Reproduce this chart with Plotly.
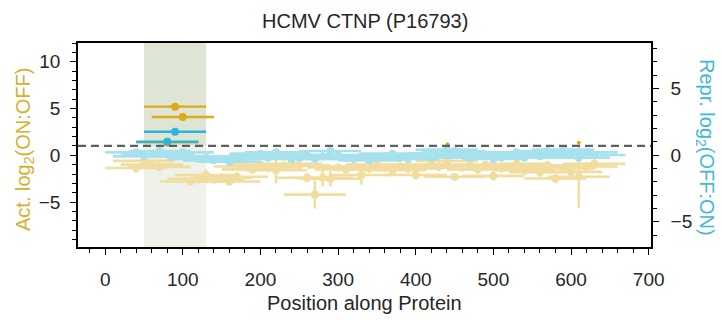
import plotly.graph_objects as go

# ---- data ----
tile_center = [40, 50, 60, 70, 80, 90, 100, 110, 120, 130, 140, 150, 160, 170, 180, 190, 200,
               210, 220, 230, 240, 250, 260, 270, 280, 290, 300, 310, 320, 330, 340, 350, 360,
               370, 380, 390, 400, 410, 420, 430, 440, 450, 460, 470, 480, 490, 500, 510, 520,
               530, 540, 550, 560, 570, 580, 590, 600, 610, 620, 630]
tile_halfwidth = [40] * len(tile_center)

act_value = [-1.35, -0.6, -1.0, -1.24, 1.4, 5.2, 4.1, -2.8, -2.5, -2.1, -2.6, -2.4, -2.8, -2.3, -1.2,
             -1.5, -1.0, -1.3, -1.6, -1.1, -0.9, -1.06, -2.4, -4.2, -2.4, -2.5, -1.3, -1.5, -1.2,
             -2.1, -1.4, -1.0, -1.3, -1.6, -1.2, -1.4, -2.1, -1.3, -1.0, -1.2, -0.6, -2.3, -1.3,
             -1.1, -1.5, -1.0, -2.2, -1.4, -1.2, -0.9, -1.6, -1.3, -1.8, -1.06, -2.48, -1.4, -1.77,
             -2.3, -1.2, -0.9]
act_err = [0.5, 0.4, 0.4, 0.5, 0.45, 0.2, 0.2, 0.4, 0.5, 0.6, 0.4, 0.5, 0.4, 0.5, 0.4,
           0.5, 0.4, 0.5, 1.4, 0.4, 0.5, 0.5, 0.5, 1.5, 0.9, 0.8, 0.4, 0.5, 0.4,
           1.05, 0.5, 0.4, 0.5, 0.4, 0.4, 0.5, 0.5, 0.4, 0.4, 0.5, 0.5, 0.4, 0.4,
           0.4, 0.5, 0.4, 0.5, 0.4, 0.4, 0.4, 0.5, 0.4, 0.5, 0.4, 0.5, 0.4, 0.5,
           3.3, 0.5, 0.6]

rep_value = [0.2, -0.1, 0.1, 0.3, 0.99, 1.74, 0.2, -0.1, -0.3, -0.2, -0.4, -0.3, -0.5, -0.2, -0.3,
             -0.1, 0.1, -0.2, 0.2, -0.1, -0.3, -0.2, 0.0, -0.3, -0.1, 0.3, 0.0, -0.2, -0.3,
             -0.1, -0.4, -0.2, -0.1, 0.1, -0.2, -0.3, -0.1, 0.0, -0.2, 0.1, 0.4, 0.3, 0.1,
             -0.2, 0.0, -0.1, -0.3, -0.2, 0.0, 0.2, -0.2, 0.1, -0.1, 0.3, 0.0, 0.4, 0.1,
             -0.2, 0.2, 0.0]
rep_err = [0.2] * len(tile_center)

# small strong activation tips visible near the threshold
tip_x = [441, 610]
tip_y = [1.17, 1.35]

act_threshold = 1.0
hit_region = [50, 130]

# ---- styling ----
GOLD = "#dcab16"
GOLD_F = "#f0dd9f"
BLUE = "#2bb6d9"
BLUE_F = "#a8e1ee"
FONT = "Liberation Sans, Arial, sans-serif"
TXT = "#262626"
FS_TICK = 19
FS_LAB = 20

act_hit = [v > act_threshold for v in act_value]
rep_hit = [v > act_threshold * 0.7 for v in rep_value]


def pick(lst, mask, keep):
    return [a for a, m in zip(lst, mask) if m == keep]


fig = go.Figure()

# faded activation
fig.add_trace(go.Scatter(
    x=pick(tile_center, act_hit, False), y=pick(act_value, act_hit, False), mode="markers",
    marker=dict(color=GOLD_F, size=8),
    error_x=dict(type="data", array=pick(tile_halfwidth, act_hit, False), color=GOLD_F, thickness=2.6, width=0),
    error_y=dict(type="data", array=pick(act_err, act_hit, False), color=GOLD_F, thickness=2.6, width=0),
    yaxis="y", showlegend=False))

# faded repression
fig.add_trace(go.Scatter(
    x=pick(tile_center, rep_hit, False), y=pick(rep_value, rep_hit, False), mode="markers",
    marker=dict(color=BLUE_F, size=8),
    error_x=dict(type="data", array=pick(tile_halfwidth, rep_hit, False), color=BLUE_F, thickness=2.6, width=0),
    error_y=dict(type="data", array=pick(rep_err, rep_hit, False), color=BLUE_F, thickness=2.6, width=0),
    yaxis="y2", showlegend=False))

# strong activation
fig.add_trace(go.Scatter(
    x=pick(tile_center, act_hit, True), y=pick(act_value, act_hit, True), mode="markers",
    marker=dict(color=GOLD, size=8),
    error_x=dict(type="data", array=pick(tile_halfwidth, act_hit, True), color=GOLD, thickness=2.4, width=0),
    error_y=dict(type="data", array=pick(act_err, act_hit, True), color=GOLD, thickness=2.4, width=0),
    yaxis="y", showlegend=False))
fig.add_trace(go.Scatter(
    x=tip_x, y=tip_y, mode="markers", marker=dict(color=GOLD, size=4),
    yaxis="y", showlegend=False))

# strong repression
fig.add_trace(go.Scatter(
    x=pick(tile_center, rep_hit, True), y=pick(rep_value, rep_hit, True), mode="markers",
    marker=dict(color=BLUE, size=8),
    error_x=dict(type="data", array=pick(tile_halfwidth, rep_hit, True), color=BLUE, thickness=2.4, width=0),
    error_y=dict(type="data", array=[0.05] * sum(rep_hit), color=BLUE, thickness=2.4, width=0),
    yaxis="y2", showlegend=False))

# shaded hit region + threshold
fig.add_shape(type="rect", xref="x", yref="y", x0=hit_region[0], x1=hit_region[1],
              y0=act_threshold, y1=12, fillcolor="#dfe5d5", line_width=0, layer="below")
fig.add_shape(type="rect", xref="x", yref="y", x0=hit_region[0], x1=hit_region[1],
              y0=-9.8, y1=act_threshold, fillcolor="#eef2ea", line_width=0, layer="below")
fig.add_shape(type="line", xref="paper", yref="y", x0=0, x1=1, y0=act_threshold, y1=act_threshold,
              line=dict(color="#5f5f5f", width=2.2, dash="8px,5px"))

axis_common = dict(showgrid=False, zeroline=False, showline=True, linecolor="black", linewidth=1.6,
                   ticks="outside", tickcolor="black", ticklen=6, tickwidth=1.3, automargin=False,
                   tickfont=dict(family=FONT, size=FS_TICK, color=TXT))

fig.update_layout(
    width=722, height=320,
    margin=dict(l=78, r=71, t=43, b=73, autoexpand=False),
    paper_bgcolor="white", plot_bgcolor="white",
    xaxis=dict(range=[-35, 703], dtick=100, tick0=0, mirror=True, ticklabelstandoff=8,
               minor=dict(dtick=20, ticklen=4, ticks="outside", tickcolor="black", tickwidth=1.2),
               **axis_common),
    yaxis=dict(range=[-9.8, 12], dtick=5, tick0=0, mirror=True, ticklabelstandoff=6,
               minor=dict(dtick=1, ticklen=4, ticks="outside", tickcolor="black", tickwidth=1.2),
               **axis_common),
    yaxis2=dict(range=[-6.9, 8.4], dtick=5, tick0=0, overlaying="y", side="right", ticklabelstandoff=8,
                minor=dict(dtick=1, ticklen=4, ticks="outside", tickcolor="black", tickwidth=1.2),
                **axis_common),
    annotations=[
        dict(text="HCMV CTNP (P16793)", xref="paper", yref="paper", x=0.5, y=1, yshift=22,
             xanchor="center", yanchor="middle", showarrow=False,
             font=dict(family=FONT, size=FS_LAB, color=TXT)),
        dict(text="Position along Protein", xref="paper", yref="paper", x=0.5, y=0, yshift=-56,
             xanchor="center", yanchor="middle", showarrow=False,
             font=dict(family=FONT, size=FS_LAB, color=TXT)),
        dict(text="Act. log<sub>2</sub>(ON:OFF)", xref="paper", yref="paper", x=0, xshift=-54, y=0.5,
             yshift=-5, xanchor="center", yanchor="middle", showarrow=False, textangle=-90,
             font=dict(family=FONT, size=FS_LAB, color="#d4b02c")),
        dict(text="Repr. log<sub>2</sub>(OFF:ON)", xref="paper", yref="paper", x=1, xshift=55, y=0.5,
             yshift=-2, xanchor="center", yanchor="middle", showarrow=False, textangle=90,
             font=dict(family=FONT, size=FS_LAB, color="#3db8d8")),
    ],
)

fig.write_html("out.html", config={"displayModeBar": False},
               post_script="document.body.style.margin='0';document.body.style.padding='0';")
